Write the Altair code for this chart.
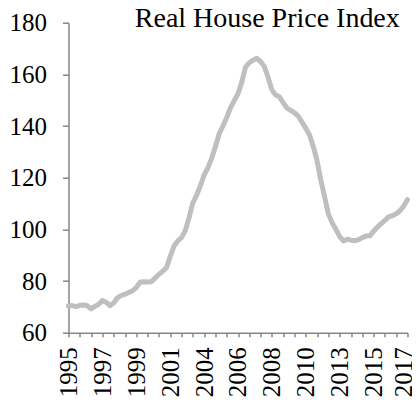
import altair as alt
import pandas as pd

# Quarterly real house price index, 1995Q1 .. 2017Q3
QUARTERS = [f"{1995 + i // 4}Q{i % 4 + 1}" for i in range(91)]
VALUES = [
    70.3, 70.5, 70.1, 70.6, 70.7, 70.4, 69.2, 70.2, 71.0, 72.5,
    71.8, 70.5, 71.5, 73.5, 74.4, 74.9, 75.6, 76.2, 77.5, 79.5,
    79.7, 79.6, 79.7, 81.2, 82.6, 83.8, 85.2, 89.5, 93.5, 95.5,
    96.8, 99.5, 104.5, 110.3, 113.2, 116.8, 121.0, 123.8, 127.5, 132.0,
    137.0, 140.0, 143.3, 147.0, 149.8, 152.5, 157.0, 162.8, 164.5, 165.5,
    166.2, 165.0, 163.0, 158.8, 154.0, 152.0, 151.3, 149.0, 147.0, 146.0,
    145.2, 143.8, 141.5, 139.1, 136.5, 132.0, 126.5, 119.0, 112.5, 106.0,
    102.5, 100.0, 97.2, 95.5, 96.2, 95.8, 95.6, 96.0, 96.8, 97.4,
    97.5, 99.3, 100.8, 102.2, 103.5, 104.8, 105.3, 106.0, 107.2, 109.0,
    111.5,
]
YEAR_LABELS = ["1995", "1997", "1999", "2001", "2004", "2006",
               "2008", "2010", "2013", "2015", "2017"]
Y_TICKS = [60, 80, 100, 120, 140, 160, 180]
TITLE = "Real House Price Index"

df = pd.DataFrame({"idx": list(range(len(QUARTERS))), "quarter": QUARTERS, "value": VALUES})

label_array = "[" + ",".join(f"'{y}'" for y in YEAR_LABELS) + "]"
label_expr = f"datum.value % 9 == 0 ? {label_array}[datum.value / 9] : ''"
LAST = len(QUARTERS) - 1

FONT = "Liberation Serif"
AXIS_GRAY = "#868686"
W, H = 339, 310

line = alt.Chart(df).mark_line(
    color="#BFBFBF", strokeWidth=5, strokeCap="round", strokeJoin="round"
).encode(
    x=alt.X(
        "idx:Q",
        scale=alt.Scale(domain=[0, LAST], nice=False, zero=False),
        axis=alt.Axis(
            values=list(range(0, len(QUARTERS), 3)),
            labelExpr=label_expr,
            labelAngle=270,
            labelAlign="right",
            labelBaseline="middle",
            labelOverlap=False,
            labelFlush=False,
            labelPadding=10,
            labelOffset={"condition": {"test": f"datum.value == {LAST}", "value": -4}, "value": 0},
            tickSize=4,
            title=None,
            grid=False,
        ),
    ),
    y=alt.Y(
        "value:Q",
        scale=alt.Scale(domain=[60, 180], nice=False, zero=False),
        axis=alt.Axis(
            values=Y_TICKS,
            tickSize=6,
            labelPadding=16,
            title=None,
            grid=False,
        ),
    ),
)

title = alt.Chart(pd.DataFrame({"t": [TITLE]})).mark_text(
    align="right", baseline="alphabetic", font=FONT, fontSize=28, color="black"
).encode(
    text="t:N",
    x=alt.value(W - 7.7),
    y=alt.value(4.5),
)

chart = alt.layer(line, title).properties(
    width=W,
    height=H,
    autosize=alt.AutoSizeParams(type="none"),
    padding={"left": 60.5, "top": 14.7, "right": 4.5, "bottom": 70},
).configure_axis(
    domainColor=AXIS_GRAY,
    domainWidth=1.5,
    tickColor=AXIS_GRAY,
    tickWidth=1.5,
    labelColor="black",
    labelFont=FONT,
    labelFontSize=25,
).configure_view(stroke=None)

chart.save("out.html", embed_options={"renderer": "svg", "actions": False})
